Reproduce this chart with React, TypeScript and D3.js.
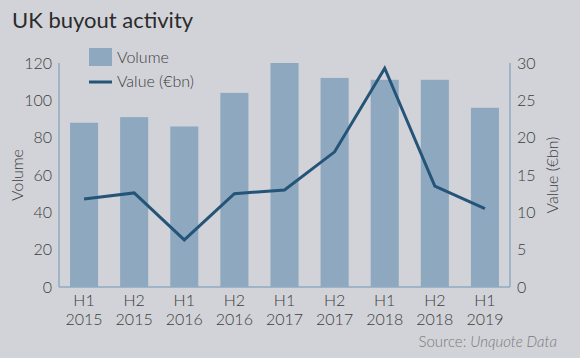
import React from 'react';
import * as d3 from 'd3';

const periods = ['H1 2015', 'H2 2015', 'H1 2016', 'H2 2016', 'H1 2017', 'H2 2017', 'H1 2018', 'H2 2018', 'H1 2019'];
const volume = [88, 91, 86, 104, 120, 112, 111, 111, 96];
const valueBn = [11.8, 12.6, 6.3, 12.5, 13.0, 18.1, 29.3, 13.5, 10.5];
const leftTicks = [0, 20, 40, 60, 80, 100, 120];
const rightTicks = [0, 5, 10, 15, 20, 25, 30];

const App = () => {
  const Width = 580;
  const Height = 358;
  const margin = { top: 63, right: 70, bottom: 71, left: 59 };
  const font = 'Lato, "Open Sans", sans-serif';
  const textColor = '#3d3d3d';
  const axisColor = '#8eaac0';

  const xScale = d3.scaleBand()
    .domain(periods)
    .range([margin.left, Width - margin.right])
    .paddingInner(0.44)
    .paddingOuter(0.22);
  const yLeft = d3.scaleLinear().domain([0, 120]).range([Height - margin.bottom, margin.top]);
  const yRight = d3.scaleLinear().domain([0, 30]).range([Height - margin.bottom, margin.top]);

  const line = d3.line<number>()
    .x((d, i) => (xScale(periods[i]) as number) + xScale.bandwidth() / 2)
    .y((d) => yRight(d));

  const bottom = Height - margin.bottom;
  const right = Width - margin.right;

  return (
    <svg width={Width} height={Height} style={{ position: 'absolute', left: 0, top: 0, fontFamily: font, fontWeight: 300 }}>
      <rect x={0} y={0} width={Width} height={Height} fill="#d1d3d8" />
      <text x={12} y={28} fontSize={22} fontWeight={400} fill="#2b2b2b">UK buyout activity</text>

      {volume.map((d, i) => (
        <rect key={i} x={xScale(periods[i])} y={yLeft(d)} width={xScale.bandwidth()} height={bottom - yLeft(d)} fill="#8ea9bf" />
      ))}

      <path d={line(valueBn) || ''} fill="none" stroke="#245578" strokeWidth={3} strokeLinejoin="miter" />

      <line x1={margin.left} x2={margin.left} y1={margin.top} y2={bottom} stroke={axisColor} strokeWidth={1.5} />
      <line x1={right} x2={right} y1={margin.top} y2={bottom} stroke={axisColor} strokeWidth={1.5} />
      <line x1={margin.left} x2={right} y1={bottom} y2={bottom} stroke={axisColor} strokeWidth={1.5} />

      {leftTicks.map((t) => (
        <text key={t} x={margin.left - 7} y={yLeft(t)} dy="0.35em" textAnchor="end" fontSize={16} fill={textColor}>{t}</text>
      ))}
      {rightTicks.map((t) => (
        <text key={t} x={right + 7} y={yRight(t)} dy="0.35em" textAnchor="start" fontSize={16} fill={textColor}>{t}</text>
      ))}

      {periods.map((p) => {
        const cx = (xScale(p) as number) + xScale.bandwidth() / 2;
        const [h, yr] = p.split(' ');
        return (
          <g key={p}>
            <text x={cx} y={306} textAnchor="middle" fontSize={16} fill={textColor}>{h}</text>
            <text x={cx} y={325} textAnchor="middle" fontSize={16} fill={textColor}>{yr}</text>
          </g>
        );
      })}

      <text transform={`translate(23, ${(margin.top + bottom) / 2}) rotate(-90)`} textAnchor="middle" fontSize={16} fill={textColor}>Volume</text>
      <text transform={`translate(558, ${(margin.top + bottom) / 2}) rotate(-90)`} textAnchor="middle" fontSize={16} fill={textColor}>Value (€bn)</text>

      <rect x={89} y={48} width={23} height={18} fill="#8ea9bf" />
      <text x={117} y={63} fontSize={16} fill={textColor}>Volume</text>
      <line x1={89} x2={112} y1={82} y2={82} stroke="#245578" strokeWidth={3} />
      <text x={117} y={87} fontSize={16} fill={textColor}>Value (€bn)</text>

      <text x={557} y={347} textAnchor="end" fontSize={15} fill="#7a7a7a">
        Source: <tspan fontStyle="italic">Unquote Data</tspan>
      </text>
    </svg>
  );
};

export default App;
